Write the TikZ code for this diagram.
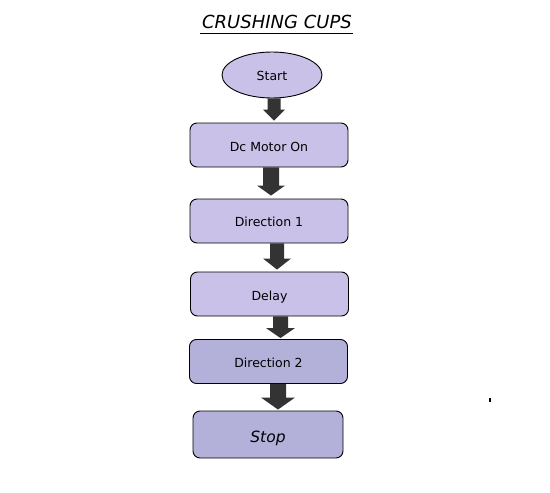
\documentclass[tikz,border=0pt]{standalone}
\usepackage{fontspec}
\setmainfont{DejaVu Sans}
\usetikzlibrary{shapes.geometric,calc}
\definecolor{lavA}{HTML}{C9C1E7}
\definecolor{lavB}{HTML}{B3B0DA}
\definecolor{arrowgray}{HTML}{333333}
\tikzset{
  boxA/.style={draw=black, line width=0.9pt, rounded corners=7pt, fill=lavA, minimum width=158pt, minimum height=44pt, inner sep=0pt, font=\fontsize{12.5}{14}\selectfont},
  boxB/.style={boxA, fill=lavB},
  startnode/.style={ellipse, draw=black, line width=0.9pt, fill=lavA, minimum width=100pt, minimum height=46pt, inner sep=0pt, font=\fontsize{12.5}{14}\selectfont},
  blockarrow/.style={fill=arrowgray, draw=none}
}
\newcommand{\lowered}[2]{\raisebox{-#1}[\height][\depth]{#2}}
\newcommand{\blockarr}[7]{% from, to, x center, half shaft, half head, head length, gap above target
  \fill[blockarrow] let \p1=(#1.south), \p2=(#2.north) in
    (#3pt-#4pt,\y1) -- (#3pt+#4pt,\y1) -- (#3pt+#4pt,\y2+#6pt+#7pt) -- (#3pt+#5pt,\y2+#6pt+#7pt) -- (#3pt,\y2+#7pt) -- (#3pt-#5pt,\y2+#6pt+#7pt) -- (#3pt-#4pt,\y2+#6pt+#7pt) -- cycle;
}
\begin{document}
\begin{tikzpicture}[x=1pt,y=-1pt]
\useasboundingbox (0,0) rectangle (550,493);
\node[font=\fontsize{18}{21}\selectfont\itshape] (title) at (277,22) {CRUSHING CUPS};
\draw[line width=0.8pt] (200,33) -- (353,33);
\node[startnode] (start) at (272,75) {\lowered{1pt}{Start}};
\node[boxA] (motor) at (269,145) {\lowered{1.5pt}{Dc Motor On}};
\node[boxA] (dir1) at (269,221) {\lowered{1pt}{Direction 1}};
\node[boxA] (delay) at (269.5,294) {\lowered{3pt}{Delay}};
\node[boxB] (dir2) at (268.5,361.5) {\lowered{1.5pt}{Direction 2}};
\node[boxB, minimum width=150pt, minimum height=47pt, font=\fontsize{15.5}{18}\selectfont\itshape] (stop) at (268,434.5) {\lowered{3.5pt}{Stop}};
\blockarr{start}{motor}{274}{6.5}{11}{11}{2}
\blockarr{motor}{dir1}{271}{8}{14}{10}{3}
\blockarr{dir1}{delay}{277}{7}{14}{11}{2}
\blockarr{delay}{dir2}{280.5}{7.5}{14.5}{10}{1}
\blockarr{dir2}{stop}{278}{8}{17}{12}{1}
\fill (488.5,398) rectangle (490.5,402);
\end{tikzpicture}
\end{document}
